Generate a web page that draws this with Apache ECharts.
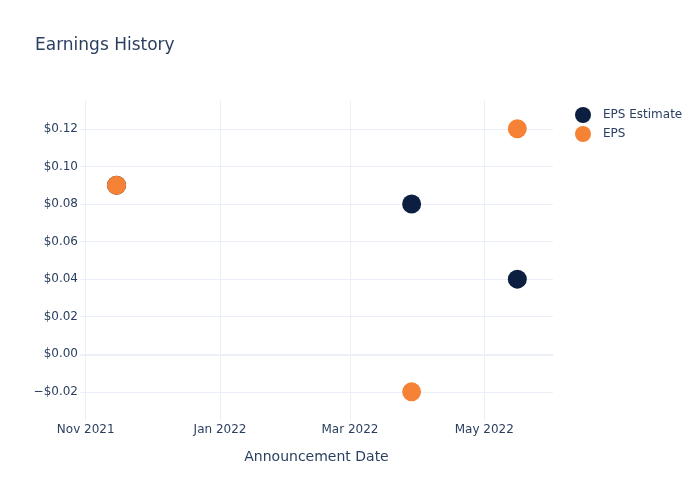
<!DOCTYPE html>
<html>
<head>
<meta charset="utf-8">
<script src="https://cdn.jsdelivr.net/npm/echarts@6/dist/echarts.min.js"></script>
<style>
html,body{margin:0;padding:0;background:#fff;}
#chart{width:700px;height:500px;}
</style>
</head>
<body>
<div id="chart"></div>
<script>
const announcementDates = ['2021-11-15', '2022-03-29', '2022-05-16'];
const epsEstimate = [0.09, 0.08, 0.04];
const epsActual = [0.09, -0.02, 0.12];
const monthNames = ['Jan','Feb','Mar','Apr','May','Jun','Jul','Aug','Sep','Oct','Nov','Dec'];

function toTime(s) {
  const p = s.split('-').map(Number);
  return new Date(p[0], p[1] - 1, p[2]).getTime();
}
const DAY = 86400000;
const xMin = new Date(2021, 10, 1).getTime() - 2.6 * DAY;
const xMax = new Date(2021, 10, 1).getTime() + 212.2 * DAY;

const font = '"DejaVu Sans", sans-serif';
const textColor = '#2a3f5f';
const gridColor = '#ebf0f8';

const chart = echarts.init(document.getElementById('chart'), null, {renderer: 'canvas'});
chart.setOption({
  animation: false,
  backgroundColor: '#ffffff',
  textStyle: {fontFamily: font},
  title: {
    text: 'Earnings History',
    left: 35, top: 37, padding: 0,
    textStyle: {fontFamily: font, fontSize: 17, fontWeight: 'normal', color: textColor}
  },
  legend: {
    orient: 'vertical',
    left: 575, top: 107, padding: 0,
    itemWidth: 16, itemHeight: 16, itemGap: 3,
    icon: 'circle',
    textStyle: {fontFamily: font, fontSize: 12, color: textColor, padding: [0, 0, 0, 7]},
    data: ['EPS Estimate', 'EPS']
  },
  grid: {left: 80, right: 147, top: 101, bottom: 79, containLabel: false},
  xAxis: {
    type: 'time',
    min: xMin, max: xMax,
    splitNumber: 4,
    minInterval: 61 * DAY,
    maxInterval: 61 * DAY,
    name: 'Announcement Date',
    nameLocation: 'middle',
    nameGap: 29,
    nameTextStyle: {fontFamily: font, fontSize: 14, color: textColor},
    axisLine: {show: false},
    axisTick: {show: false},
    axisLabel: {
      fontFamily: font, fontSize: 12, color: textColor, margin: 3,
      showMinLabel: false, showMaxLabel: false,
      formatter: function (v) {
        const d = new Date(v);
        return monthNames[d.getMonth()] + ' ' + d.getFullYear();
      }
    },
    splitLine: {show: true, showMinLine: false, showMaxLine: false, lineStyle: {color: gridColor, width: 1}}
  },
  yAxis: {
    type: 'value',
    min: -0.0355, max: 0.1348,
    splitNumber: 8,
    axisLine: {show: false},
    axisTick: {show: false},
    axisLabel: {
      fontFamily: font, fontSize: 12, color: textColor, margin: 2,
      showMinLabel: false, showMaxLabel: false,
      formatter: function (v) {
        if (Math.abs(v) < 1e-9) return '$0.00';
        return (v < 0 ? '\u2212$' : '$') + Math.abs(v).toFixed(2);
      }
    },
    splitLine: {show: true, showMinLine: false, showMaxLine: false, lineStyle: {color: gridColor, width: 1}}
  },
  series: [
    {
      name: 'EPS Estimate',
      type: 'scatter',
      symbol: 'circle',
      symbolSize: 19,
      itemStyle: {color: '#0c1f40', opacity: 1},
      data: announcementDates.map((d, i) => [toTime(d), epsEstimate[i]])
    },
    {
      name: 'EPS',
      type: 'scatter',
      symbol: 'circle',
      symbolSize: 19,
      itemStyle: {color: '#f68236', opacity: 1},
      data: announcementDates.map((d, i) => [toTime(d), epsActual[i]]),
      markLine: {
        silent: true, symbol: 'none', label: {show: false},
        lineStyle: {color: gridColor, width: 2, type: 'solid'},
        data: [{yAxis: 0}],
        z: 0
      }
    }
  ]
});
</script>
</body>
</html>
